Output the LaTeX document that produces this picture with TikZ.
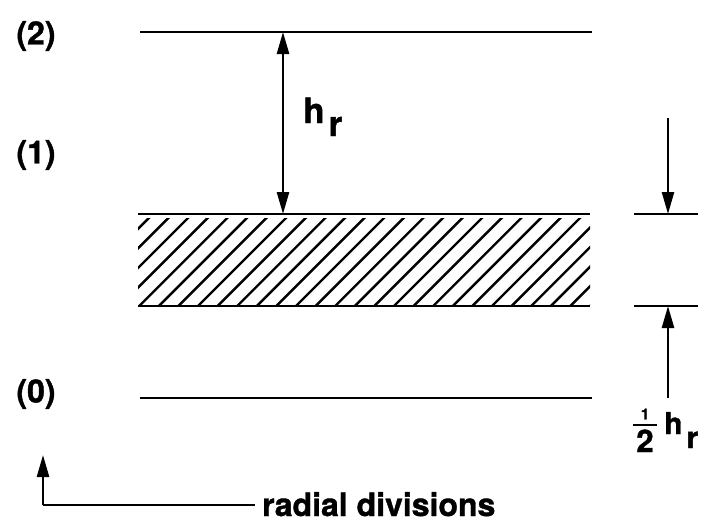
\documentclass[tikz,border=0pt]{standalone}
\usepackage{fontspec}
\setmainfont{TeX Gyre Heros}[BoldFeatures={FakeBold=1.2}]
\usetikzlibrary{arrows.meta}
\begin{document}
\begin{tikzpicture}[x=1pt,y=-1pt,
  rule/.style={line width=2.9pt},
  dim/.style={line width=2.5pt},
  tipend/.style={-{Triangle[length=22pt,width=12pt]}},
  tipboth/.style={{Triangle[length=22pt,width=12pt]}-{Triangle[length=22pt,width=12pt]}},
  lbl/.style={font=\bfseries\fontsize{32}{36}\selectfont, inner sep=0pt},
  hatchline/.style={line width=2.4pt}]
\useasboundingbox (0,0) rectangle (710,528);

% level labels
\node[lbl] (n2) at (36,36) {(2)};
\node[lbl] (n1) at (36,155) {(1)};
\node[lbl] (n0) at (36,394) {(0)};

% level lines
\coordinate (L2a) at (140,32);  \coordinate (L2b) at (592,32);
\coordinate (Ta) at (138,214);  \coordinate (Tb) at (590,214);
\coordinate (Ba) at (138,306);  \coordinate (Bb) at (590,306);
\coordinate (L0a) at (140,398); \coordinate (L0b) at (592,398);
\draw[rule] (L2a) -- (L2b);
\draw[rule] (Ta) -- (Tb);
\draw[rule] (Ba) -- (Bb);
\draw[rule] (L0a) -- (L0b);

% hatching
\begin{scope}
  \clip (138,218) rectangle (590,304);
  \foreach \k in {-9,...,21} {
    \draw[hatchline] ({504+19.6*\k-310},310) -- ({504+19.6*\k-210},210);
  }
\end{scope}

% h_r dimension
\coordinate (Dtop) at (283,32);
\coordinate (Dbot) at (283,214);
\draw[dim,tipboth] (Dtop) -- (Dbot);
\node[font=\bfseries\fontsize{35}{40}\selectfont, inner sep=0pt, anchor=base west] (hr) at (303,123) {h\kern4pt\raisebox{-13pt}{r}};

% right side half-height marks
\coordinate (Sa) at (634,214); \coordinate (Sb) at (698,214);
\coordinate (Ua) at (634,306); \coordinate (Ub) at (698,306);
\draw[dim] (Sa) -- (Sb);
\draw[dim] (Ua) -- (Ub);
\coordinate (A1s) at (668,118); \coordinate (A1e) at (668,214);
\coordinate (A2s) at (668,398); \coordinate (A2e) at (668,306);
\draw[dim,tipend] (A1s) -- (A1e);
\draw[dim,tipend] (A2s) -- (A2e);

% 1/2 h_r
\node[font=\bfseries\fontsize{15}{16}\selectfont, inner sep=0pt] (one) at (645,414) {1};
\coordinate (Fa) at (633,425); \coordinate (Fb) at (657,425);
\draw[line width=2.4pt] (Fa) -- (Fb);
\node[font=\bfseries\fontsize{31}{34}\selectfont, inner sep=0pt, anchor=base] (two) at (645,452) {2};
\node[font=\bfseries\fontsize{30}{34}\selectfont, inner sep=0pt, anchor=base west] (hr2) at (664,434) {h\kern4pt\raisebox{-14pt}{r}};

% radial divisions
\coordinate (Rtip) at (43,455);
\coordinate (Rc) at (43,505);
\coordinate (Re) at (255,505);
\draw[dim] (Re) -- (Rc);
\draw[dim,tipend] (Rc) -- (Rtip);
\node[font=\bfseries\fontsize{32}{36}\selectfont, inner sep=0pt, anchor=base west] (rd) at (262,516) {radial divisions};
\end{tikzpicture}
\end{document}
